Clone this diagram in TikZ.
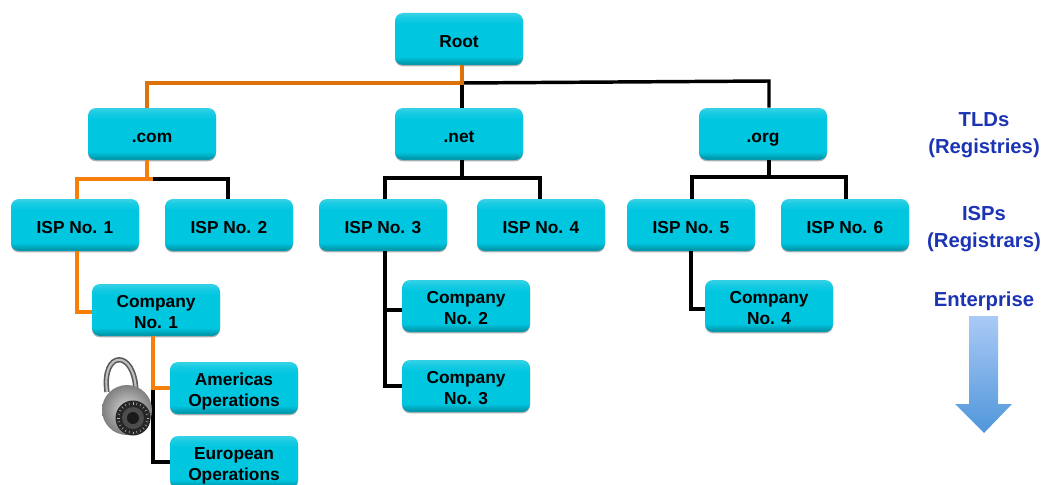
\documentclass[tikz,border=0pt]{standalone}
\usepackage{fontspec}
\setmainfont{Liberation Sans}
\usetikzlibrary{shadows}
\definecolor{boxcyan}{HTML}{00C6E0}
\definecolor{pathorange}{HTML}{F57F0A}
\definecolor{tierblue}{HTML}{1A34B4}
\definecolor{arrowtop}{HTML}{AACAF6}
\definecolor{arrowbottom}{HTML}{5096DA}
\pgfdeclareverticalshading{boxbevel}{100bp}{
  color(0bp)=(boxcyan!72!black);
  color(27bp)=(boxcyan!78!black);
  color(33bp)=(boxcyan);
  color(64bp)=(boxcyan);
  color(71bp)=(boxcyan!90!white);
  color(74bp)=(boxcyan!80!white);
  color(100bp)=(boxcyan!80!white)}
\newcommand{\firstline}{\rule{0pt}{15.5pt}}
\tikzset{
  box/.style={rounded corners=6pt,shading=boxbevel,minimum width=96pt,minimum height=39pt,
    align=center,inner sep=0pt,font=\bfseries\fontsize{13}{15.75}\selectfont,text=black,
    execute at begin node={\rule[-3pt]{0pt}{18.8pt}},
    drop shadow={shadow xshift=0pt,shadow yshift=-1pt,opacity=0.3,fill=black}},
  tier/.style={align=center,inner sep=0pt,font=\bfseries\fontsize{15.2}{20}\selectfont,text=tierblue},
  good/.style={draw=pathorange,line width=2.6pt},
  link/.style={draw=black,line width=2.6pt},
  thinlink/.style={draw=black,line width=2.3pt}
}

\begin{document}
\begin{tikzpicture}[x=0.75pt,y=-0.75pt]
  \useasboundingbox (0,0) rectangle (1042,485);
  % boxes
  \foreach \name/\X/\Y/\txt in {root/459/39/Root,com/152/134/.com,net/459/134/.net,org/763/134/.org,
    ispa/75/225/ISP No. 1,ispb/229/225/ISP No. 2,ispc/383/225/ISP No. 3,
    ispd/541/225/ISP No. 4,ispe/691/225/ISP No. 5,ispf/845/225/ISP No. 6,
    compa/156/310/{\firstline Company\\No. 1},compb/466/306/{\firstline Company\\No. 2},
    compc/466/386/{\firstline Company\\No. 3},compd/769/306/{\firstline Company\\No. 4},
    amer/234/388/{\firstline Americas\\Operations},euro/234/462/{\firstline European\\Operations}} {
    \node[box] (\name) at (\X,\Y) {\txt};
  }
  % branch points
  \coordinate (rootjoin) at (462,83);
  \coordinate (comjoin) at (147,179);
  \coordinate (netjoin) at (462,178);
  \coordinate (orgjoin) at (769,177);
  \coordinate (ispajoin) at (77,312);
  \coordinate (ispcjoin) at (385,310);
  \coordinate (ispejoin) at (691,309);
  \coordinate (compajoin) at (153,388);
  % root level
  \draw[link] (rootjoin) -- (rootjoin |- net.north);
  \draw[link] (rootjoin) -- (769,81) -- (769,81 |- org.north);
  \draw[good,line width=2.3pt,draw=pathorange!90!black] (rootjoin |- root.south) -- (rootjoin) -| (comjoin |- com.north);
  % .com
  \draw[thinlink] (153,179) -| (228,179 |- ispb.north);
  \draw[good] (comjoin |- com.south) -- (comjoin);
  \draw[good] (153,179) -- (77,179) -- (77,179 |- ispa.north);
  % .net
  \draw[link] (netjoin |- net.south) -- (netjoin);
  \draw[link] (385,178 |- ispc.north) |- (540,178) -- (540,178 |- ispd.north);
  % .org
  \draw[link] (orgjoin |- org.south) -- (orgjoin);
  \draw[link] (692,177 |- ispe.north) |- (846,177) -- (846,177 |- ispf.north);
  % companies
  \draw[good] (ispajoin |- ispa.south) |- (ispajoin -| compa.west);
  \draw[link] (ispcjoin |- ispc.south) |- (compc.west);
  \draw[link] (ispcjoin) -- (ispcjoin -| compb.west);
  \draw[link] (ispejoin |- ispe.south) |- (ispejoin -| compd.west);
  % operations
  \draw[link] (compajoin) |- (euro.west);
  \draw[good] (compajoin |- compa.south) |- (amer.west);
  % padlock
  \draw[line width=4pt,draw=black!65] (107,392) .. controls (101,350) and (135,348) .. (136,392);
  \draw[line width=1.6pt,draw=black!25] (107,392) .. controls (101,350) and (135,348) .. (136,392);
  \shade[outer color=black!50,inner color=black!15] (127,410) circle (25);
  \fill[black!85] (133,418) circle (17.5);
  \foreach \a in {0,15,...,345} {
    \draw[white!70!black,line width=0.4pt] (133,418)+(\a:13.5) -- +(\a:16);
  }
  \fill[black!70] (133,418) circle (11);
  \fill[black!90] (133,418) circle (6);
  % tiers
  \node[tier] (tlds) at (984,135) {TLDs\\(Registries)};
  \node[tier] (isps) at (984,229) {ISPs\\(Registrars)};
  \node[tier] (ent) at (984,301) {Enterprise};
  % arrow
  \shade[top color=arrowtop,bottom color=arrowbottom]
    (969,316) -- (998,316) -- (998,404) -- (1012,404) -- (984,433) -- (955,404) -- (969,404) -- cycle;
\end{tikzpicture}
\end{document}
